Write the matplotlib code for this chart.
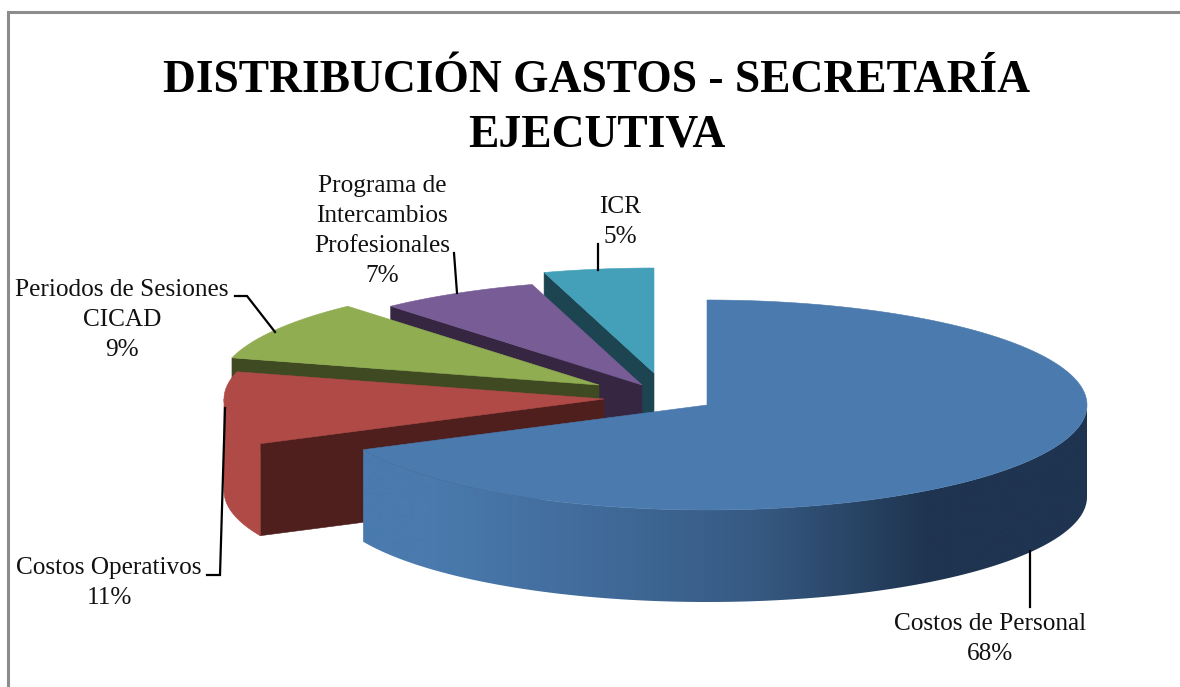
import numpy as np
import matplotlib
matplotlib.use("Agg")
import matplotlib.pyplot as plt
from matplotlib.colors import to_rgb
from matplotlib.patches import Polygon

plt.rcParams['font.family'] = ['Liberation Serif', 'DejaVu Serif']

title = "DISTRIBUCIÓN GASTOS - SECRETARÍA\nEJECUTIVA"
categories = ["Costos de Personal", "Costos Operativos", "Periodos de Sesiones\nCICAD",
              "Programa de\nIntercambios\nProfesionales", "ICR"]
values = [68.0, 11.17, 9.33, 6.83, 4.67]

top_colors = ["#4a7aae", "#af4a46", "#90ad52", "#775c96", "#44a0b9"]
wall_colors = ["#1f3450", "#4f1f1e", "#3f4a22", "#362642", "#1d4451"]
apexes = [(707, 405), (604, 399), (599, 385), (642, 385), (654, 373)]
label_pos = [(990, 639), (109, 583), (122, 320), (382, 231), (620, 222)]
leaders = [
    [(1030, 551), (1030, 607)],
    [(207, 575), (220, 575), (225, 408)],
    [(235, 296), (247, 296), (275, 332)],
    [(454, 253), (457, 293)],
    [(598, 244), (598, 270)],
]

RX, RY, DEPTH = 380, 105, 92

fig = plt.figure(figsize=(11.8, 6.87), dpi=100)
ax = fig.add_axes([0, 0, 1, 1])
ax.axis("off")


def rim(apex, t):
    t = np.radians(t)
    return apex[0] + RX * np.sin(t), apex[1] - RY * np.cos(t)


angles = np.cumsum([0] + values) / sum(values) * 360

for i in range(len(values) - 1, -1, -1):
    t0, t1 = angles[i], angles[i + 1]
    apex = apexes[i]
    z = i * -10 + 50
    ts = np.linspace(t0, t1, 240)
    rx, ry = rim(apex, ts)
    # radial wall at the start edge of the slice
    if i > 0:
        x0, y0 = rim(apex, t0)
        ax.fill([apex[0], x0, x0, apex[0]],
                [apex[1], y0, y0 + DEPTH, apex[1] + DEPTH],
                color=wall_colors[i], lw=0.4, zorder=z)
    # visible outer wall
    lo, hi = max(t0, 90), min(t1, 270)
    if hi > lo:
        tw = np.linspace(lo, hi, 300)
        wx, wy = rim(apex, tw)
        outline = np.c_[np.r_[wx, wx[::-1]], np.r_[wy, wy[::-1] + DEPTH]]
        if i == 0:
            # left-to-right shading of the big slice
            px = np.arange(0, 1181)
            f = np.interp(px, [430, 620, 760, 870, 930], [0, 0.25, 0.47, 0.82, 1])
            a, b = np.array(to_rgb(top_colors[0])), np.array(to_rgb(wall_colors[0]))
            grad = (a + (b - a) * f[:, None])[None, :, :]
            im = ax.imshow(grad, extent=(0, 1180, 687, 0), aspect="auto", zorder=z,
                           interpolation="bilinear")
            clip = Polygon(outline, closed=True, transform=ax.transData,
                           fc="none", ec="none")
            ax.add_patch(clip)
            im.set_clip_path(clip)
        else:
            ax.fill(outline[:, 0], outline[:, 1], color=top_colors[i], lw=0.4, zorder=z)
    # top face
    ax.fill(np.r_[apex[0], rx], np.r_[apex[1], ry], color=top_colors[i],
            lw=0.4, zorder=z + 1)

ax.set_xlim(0, 1180)
ax.set_ylim(687, 0)

for pts in leaders:
    xs, ys = zip(*pts)
    ax.plot(xs, ys, color="black", lw=1.6, zorder=60, solid_joinstyle="miter")

for name, v, (x, y) in zip(categories, values, label_pos):
    ax.text(x, y, f"{name}\n{v:.0f}%", ha="center", va="center", fontsize=18.2,
            color="#111111", linespacing=1.47, zorder=70)

ax.text(597, 108.5, title, ha="center", va="center", fontsize=32.8, fontweight="bold",
        color="black", linespacing=1.39, zorder=70)

# chart frame
ax.plot([7.5, 7.5, 1180], [687, 11.5, 11.5], color="#8c8c8c", lw=2.2, zorder=80,
        solid_joinstyle="miter")

fig.savefig("out.png", dpi=100)
